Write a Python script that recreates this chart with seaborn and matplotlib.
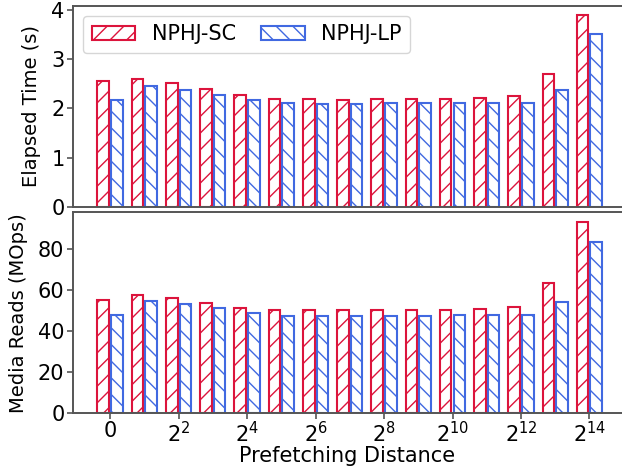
import matplotlib
matplotlib.use("Agg")
import matplotlib.pyplot as plt
import seaborn as sns
import pandas as pd
import numpy as np

distances = ["0"] + [f"$2^{{{k}}}$" for k in range(1, 15)]
series = ["NPHJ-SC", "NPHJ-LP"]
elapsed_sc = [2.55, 2.60, 2.52, 2.39, 2.27, 2.20, 2.20, 2.18, 2.20, 2.19, 2.20, 2.22, 2.25, 2.69, 3.89]
elapsed_lp = [2.18, 2.46, 2.38, 2.28, 2.18, 2.10, 2.09, 2.08, 2.10, 2.10, 2.10, 2.11, 2.10, 2.37, 3.51]
reads_sc = [55.1, 57.6, 56.1, 53.7, 51.0, 50.1, 50.1, 50.0, 50.1, 50.1, 50.4, 50.9, 51.7, 63.1, 93.2]
reads_lp = [48.0, 54.4, 53.0, 51.0, 48.9, 47.5, 47.2, 47.2, 47.3, 47.5, 47.6, 47.8, 47.8, 54.3, 83.4]
tick_labels = ["0", "$2^{2}$", "$2^{4}$", "$2^{6}$", "$2^{8}$", "$2^{10}$", "$2^{12}$", "$2^{14}$"]

colors = {"NPHJ-SC": "#DC143C", "NPHJ-LP": "#4169E1"}
hatches = {"NPHJ-SC": "//", "NPHJ-LP": "\\\\"}

def make_df(sc, lp):
    return pd.DataFrame({
        "dist": distances * 2,
        "series": [series[0]] * len(sc) + [series[1]] * len(lp),
        "value": list(sc) + list(lp),
    })

sns.set_style("ticks")
plt.rcParams['font.family'] = ['DejaVu Sans']
plt.rcParams['hatch.linewidth'] = 1.0
plt.rcParams['text.color'] = 'black'
plt.rcParams['axes.labelcolor'] = 'black'
plt.rcParams['xtick.labelcolor'] = 'black'
plt.rcParams['ytick.labelcolor'] = 'black'

fig, (ax1, ax2) = plt.subplots(2, 1, figsize=(6.22, 4.71), dpi=100, sharex=True)
fig.subplots_adjust(left=0.117, right=1.0, top=0.988, bottom=0.1225, hspace=0.025)

spine_c = "#555555"
for ax, (sc, lp), ylab in [(ax1, (elapsed_sc, elapsed_lp), "Elapsed Time (s)"),
                           (ax2, (reads_sc, reads_lp), "Media Reads (MOps)")]:
    df = make_df(sc, lp)
    sns.barplot(data=df, x="dist", y="value", hue="series", order=distances,
                hue_order=series, palette=colors, fill=False, gap=0.15,
                linewidth=1.5, ax=ax, legend=(ax is ax1), errorbar=None)
    for cont, s in zip(ax.containers, series):
        for bar in cont:
            bar.set_hatch(hatches[s])
            bar.set_edgecolor(colors[s])
            bar.set_facecolor("white")
            bar.set_fill(True)
    ax.set_ylabel(ylab, fontsize=14, labelpad=7)
    ax.set_xlabel("")
    ax.tick_params(axis="y", labelsize=15, color=spine_c, length=4, width=1.2, pad=2)
    ax.tick_params(axis="x", labelsize=15, color=spine_c, length=4, width=1.2, pad=1.5)
    for sp in ["left", "top", "bottom"]:
        ax.spines[sp].set_color(spine_c)
        ax.spines[sp].set_linewidth(1.4)
    ax.spines["right"].set_visible(False)
    ax.set_xlim(-1.09, 14.95)

ax1.set_ylim(0, max(elapsed_sc) * 1.05)
ax1.set_yticks([0, 1, 2, 3, 4])
ax2.set_ylim(0, max(reads_sc) * 1.05)
ax2.set_yticks([0, 20, 40, 60, 80])
ax1.tick_params(axis="x", bottom=False)
ax2.set_xticks(range(0, 15, 2))
ax2.set_xticklabels(tick_labels)
ax2.set_xlabel("Prefetching Distance", fontsize=15, labelpad=0)

handles, labels = ax1.get_legend_handles_labels()
for h, s in zip(handles, series):
    h.set_hatch(hatches[s])
    h.set_edgecolor(colors[s])
    h.set_facecolor("white")
    h.set_fill(True)
ax1.legend(handles, labels, loc="upper left", ncol=2, fontsize=15, frameon=True,
           handlelength=2.1, columnspacing=1.2, borderaxespad=0.5)

fig.savefig("out.png", dpi=100)
